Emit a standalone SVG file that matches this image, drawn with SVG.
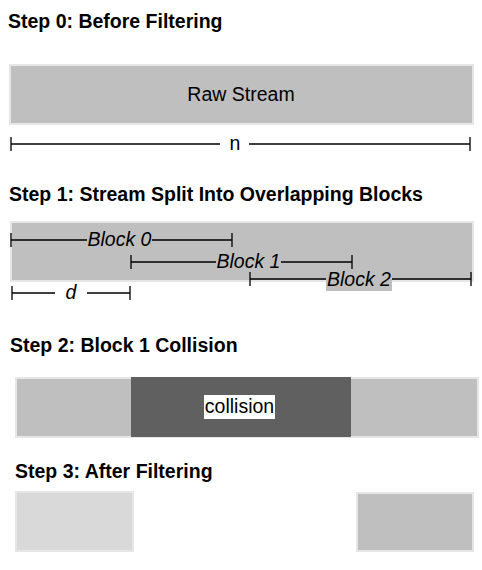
<svg xmlns="http://www.w3.org/2000/svg" width="482" height="570" viewBox="0 0 482 570">
<style>
.title{font-family:"Liberation Sans",Arial,sans-serif;font-weight:bold;font-size:19.5px;fill:#000}
.lbl{font-family:"Liberation Sans",Arial,sans-serif;font-size:19.5px;fill:#000}
.it{font-family:"Liberation Sans",Arial,sans-serif;font-size:19.5px;font-style:italic;fill:#000}
.bar{fill:#bfbfbf;stroke:#e6e6e6;stroke-width:2}
.dim{stroke:#000;stroke-width:1.3;fill:none}
</style>
<rect width="482" height="570" fill="#fff"/>
<g id="titles">
<text class="title" x="8" y="28">Step 0: Before Filtering</text>
<text class="title" x="9" y="201">Step 1: Stream Split Into Overlapping Blocks</text>
<text class="title" x="10" y="352">Step 2: Block 1 Collision</text>
<text class="title" x="15" y="478">Step 3: After Filtering</text>
</g>
<g id="raw-stream">
<rect class="bar" x="10" y="65" width="463" height="59"/>
<text class="lbl" x="241" y="101" text-anchor="middle">Raw Stream</text>
</g>
<g id="stream-blocks">
<rect class="bar" x="11" y="222" width="462" height="59"/>
</g>
<g id="collision-stream">
<rect class="bar" x="16" y="378" width="462" height="59"/>
<rect x="131" y="377" width="220" height="60" fill="#606060"/>
<rect x="204" y="395" width="71" height="24" fill="#fff"/>
<text class="lbl" x="239.5" y="413" text-anchor="middle">collision</text>
</g>
<g id="filtered-left">
<rect x="16" y="492" width="117" height="59" fill="#d9d9d9" stroke="#e6e6e6" stroke-width="2"/>
</g>
<g id="filtered-right">
<rect class="bar" x="357" y="493" width="116" height="58"/>
</g>
<g id="connectors">
<path class="dim" d="M11 137V151M470 137V151M11 144H220M249 144H470"/>
<text class="lbl" x="235" y="150" text-anchor="middle">n</text>
<path class="dim" d="M11 233V247M232 233V247M11 240H87M152 240H232"/>
<text class="it" x="119.5" y="246" text-anchor="middle">Block 0</text>
<path class="dim" d="M131 255V269M352 255V269M131 262H216M281 262H352"/>
<text class="it" x="248.5" y="268" text-anchor="middle">Block 1</text>
<path class="dim" d="M250 272V286M471 272V286M250 279H326M392 279H471"/>
<rect x="326" y="272" width="66" height="19" fill="#bfbfbf"/>
<text class="it" x="359" y="286" text-anchor="middle">Block 2</text>
<path class="dim" d="M12 286V300M130 286V300M12 293H55M87 293H130"/>
<text class="it" x="71" y="299" text-anchor="middle">d</text>
</g>
</svg>
